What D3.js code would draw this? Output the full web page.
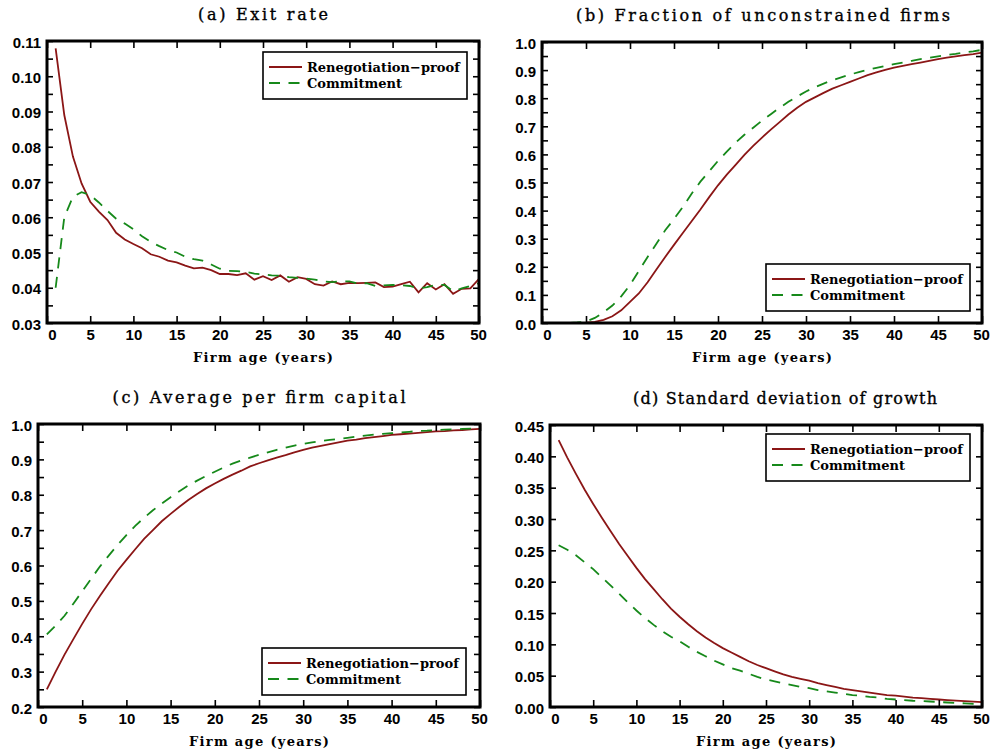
<!DOCTYPE html>
<html>
<head>
<meta charset="utf-8">
<script src="https://cdn.jsdelivr.net/npm/d3@7"></script>
<style>
  body { margin: 0; background: #fff; }
  .title { font-family: "DejaVu Serif", serif; font-size: 16px; stroke: #000; stroke-width: 0.35px; }
  .legend-text, .axis-title { font-family: "DejaVu Serif", serif; font-weight: bold; font-size: 13px; }
</style>
</head>
<body>
<script>
'use strict';

// firm age (years), one value per year
let ages = [1, 2, 3, 4, 5, 6, 7, 8, 9, 10,
  11, 12, 13, 14, 15, 16, 17, 18, 19, 20,
  21, 22, 23, 24, 25, 26, 27, 28, 29, 30,
  31, 32, 33, 34, 35, 36, 37, 38, 39, 40,
  41, 42, 43, 44, 45, 46, 47, 48, 49, 50];

let seriesNames = ["Renegotiation\u2212proof", "Commitment"];

// (a) exit rate
let exitRenego = [0.1079, 0.0890, 0.0772, 0.0696, 0.0644, 0.0616, 0.0592, 0.0556, 0.0537, 0.0524,
  0.0512, 0.0495, 0.0488, 0.0477, 0.0472, 0.0463, 0.0455, 0.0457, 0.0450, 0.0439,
  0.0439, 0.0436, 0.0441, 0.0423, 0.0433, 0.0422, 0.0435, 0.0417, 0.0430, 0.0425,
  0.0410, 0.0406, 0.0418, 0.0410, 0.0414, 0.0413, 0.0414, 0.0415, 0.0402, 0.0403,
  0.0410, 0.0417, 0.0387, 0.0413, 0.0395, 0.0410, 0.0383, 0.0397, 0.0398, 0.0425];
let exitCommit = [0.0400, 0.0600, 0.0658, 0.0671, 0.0663, 0.0642, 0.0618, 0.0596, 0.0582, 0.0566,
  0.0546, 0.0530, 0.0518, 0.0507, 0.0500, 0.0488, 0.0481, 0.0477, 0.0466, 0.0454,
  0.0448, 0.0447, 0.0445, 0.0440, 0.0438, 0.0435, 0.0434, 0.0430, 0.0428, 0.0426,
  0.0423, 0.0418, 0.0416, 0.0418, 0.0418, 0.0412, 0.0413, 0.0405, 0.0407, 0.0408,
  0.0407, 0.0405, 0.0398, 0.0402, 0.0408, 0.0408, 0.0390, 0.0398, 0.0405, 0.0413];

// (b) fraction of unconstrained firms
let fracRenego = [0, 0, 0, 0, 0.001, 0.004, 0.011, 0.024, 0.045, 0.075,
  0.105, 0.145, 0.190, 0.235, 0.278, 0.320, 0.362, 0.404, 0.448, 0.490,
  0.528, 0.563, 0.598, 0.630, 0.660, 0.688, 0.715, 0.742, 0.766, 0.787,
  0.803, 0.819, 0.834, 0.846, 0.858, 0.870, 0.882, 0.892, 0.901, 0.909,
  0.915, 0.921, 0.927, 0.933, 0.939, 0.944, 0.949, 0.953, 0.957, 0.962];
let fracCommit = [0, 0, 0, 0.002, 0.005, 0.018, 0.038, 0.062, 0.095, 0.135,
  0.185, 0.235, 0.282, 0.330, 0.370, 0.413, 0.460, 0.503, 0.540, 0.577,
  0.610, 0.642, 0.670, 0.695, 0.720, 0.743, 0.766, 0.787, 0.806, 0.824,
  0.839, 0.852, 0.864, 0.874, 0.884, 0.893, 0.901, 0.908, 0.915, 0.921,
  0.927, 0.933, 0.939, 0.944, 0.949, 0.954, 0.958, 0.963, 0.967, 0.972];

// (c) average per firm capital
let capRenego = [0.250, 0.300, 0.348, 0.392, 0.435, 0.476, 0.514, 0.550, 0.585, 0.616,
  0.646, 0.675, 0.700, 0.725, 0.746, 0.766, 0.785, 0.802, 0.818, 0.832,
  0.845, 0.857, 0.868, 0.880, 0.889, 0.897, 0.905, 0.912, 0.920, 0.927,
  0.933, 0.938, 0.943, 0.948, 0.953, 0.956, 0.960, 0.963, 0.966, 0.969,
  0.971, 0.973, 0.975, 0.977, 0.979, 0.980, 0.982, 0.983, 0.985, 0.986];
let capCommit = [0.405, 0.430, 0.458, 0.492, 0.527, 0.562, 0.597, 0.628, 0.658, 0.686,
  0.712, 0.735, 0.756, 0.775, 0.793, 0.810, 0.826, 0.840, 0.853, 0.865,
  0.877, 0.888, 0.897, 0.905, 0.913, 0.920, 0.927, 0.933, 0.939, 0.944,
  0.948, 0.952, 0.955, 0.958, 0.961, 0.964, 0.967, 0.970, 0.972, 0.974,
  0.976, 0.978, 0.980, 0.981, 0.983, 0.984, 0.985, 0.986, 0.987, 0.988];

// (d) standard deviation of growth
let sdRenego = [0.426, 0.398, 0.372, 0.347, 0.324, 0.302, 0.281, 0.260, 0.241, 0.222,
  0.204, 0.188, 0.172, 0.157, 0.144, 0.132, 0.121, 0.111, 0.102, 0.094,
  0.087, 0.080, 0.073, 0.067, 0.062, 0.057, 0.052, 0.048, 0.045, 0.042,
  0.038, 0.035, 0.032, 0.029, 0.027, 0.025, 0.023, 0.021, 0.019, 0.018,
  0.0165, 0.015, 0.014, 0.013, 0.012, 0.011, 0.0102, 0.0093, 0.0085, 0.0077];
let sdCommit = [0.258, 0.251, 0.242, 0.231, 0.220, 0.207, 0.194, 0.181, 0.167, 0.154,
  0.142, 0.131, 0.121, 0.112, 0.105, 0.096, 0.088, 0.081, 0.074, 0.068,
  0.062, 0.058, 0.053, 0.048, 0.044, 0.041, 0.038, 0.035, 0.032, 0.030,
  0.027, 0.025, 0.023, 0.021, 0.019, 0.018, 0.016, 0.015, 0.013, 0.012,
  0.011, 0.010, 0.0095, 0.0088, 0.008, 0.0072, 0.0065, 0.0058, 0.005, 0.0045];

// tick values
let xTicks = [0, 5, 10, 15, 20, 25, 30, 35, 40, 45, 50];
let yTicksA = [0.03, 0.04, 0.05, 0.06, 0.07, 0.08, 0.09, 0.10, 0.11];
let yMinorA = [0.035, 0.045, 0.055, 0.065, 0.075, 0.085, 0.095, 0.105];
let yTicksB = [0, 0.1, 0.2, 0.3, 0.4, 0.5, 0.6, 0.7, 0.8, 0.9, 1.0];
let yMinorB = [0.05, 0.15, 0.25, 0.35, 0.45, 0.55, 0.65, 0.75, 0.85, 0.95];
let yTicksC = [0.2, 0.3, 0.4, 0.5, 0.6, 0.7, 0.8, 0.9, 1.0];
let yMinorC = [0.25, 0.35, 0.45, 0.55, 0.65, 0.75, 0.85, 0.95];
let yTicksD = [0, 0.05, 0.10, 0.15, 0.20, 0.25, 0.30, 0.35, 0.40, 0.45];
let yMinorD = [];

let red = "#8b1616";
let green = "#16891a";

let svg = d3.select('body').append('svg')
  .attr('width', 994)
  .attr('height', 754)
  .style('background', '#fff');

let panels = [
  { title: "(a) Exit rate", titleX: 263, titleW: 130,
    left: 47, right: 479, top: 41, bottom: 323,
    yDomain: [0.03, 0.11], yTicks: yTicksA, yMinor: yMinorA, fmt: ".2f",
    renego: exitRenego, commit: exitCommit, legendX: 263, legendY: 52 },
  { title: "(b) Fraction of unconstrained firms", titleX: 763, titleW: 374,
    left: 542, right: 982, top: 42, bottom: 323,
    yDomain: [0, 1], yTicks: yTicksB, yMinor: yMinorB, fmt: ".1f",
    renego: fracRenego, commit: fracCommit, legendX: 766, legendY: 264 },
  { title: "(c) Average per firm capital", titleX: 259, titleW: 293,
    left: 38, right: 480, top: 424, bottom: 707,
    yDomain: [0.2, 1], yTicks: yTicksC, yMinor: yMinorC, fmt: ".1f",
    renego: capRenego, commit: capCommit, legendX: 262, legendY: 648 },
  { title: "(d) Standard deviation of growth", titleX: 785, titleW: 304,
    left: 550, right: 982, top: 425, bottom: 707,
    yDomain: [0, 0.45], yTicks: yTicksD, yMinor: yMinorD, fmt: ".2f",
    renego: sdRenego, commit: sdCommit, legendX: 766, legendY: 434 }
];

panels.forEach((p, i) => drawPanel(p, i));

function styleAxis(g) {
  g.select('.domain').remove();
  g.selectAll('line').attr('stroke', '#000').attr('stroke-width', 1.6);
  g.selectAll('text')
    .attr('fill', '#000')
    .style('font-family', '"Liberation Sans", Arial, sans-serif')
    .style('font-weight', 'bold')
    .style('font-size', '15px');
}

function drawPanel(p, idx) {
  let g = svg.append('g');

  let xScale = d3.scaleLinear().domain([0, 50]).range([p.left, p.right]);
  let yScale = d3.scaleLinear().domain(p.yDomain).range([p.bottom, p.top]);

  // clip the curves to the frame
  let clipId = 'clip' + idx;
  svg.append('clipPath').attr('id', clipId)
    .append('rect')
    .attr('x', p.left).attr('y', p.top)
    .attr('width', p.right - p.left).attr('height', p.bottom - p.top);

  let line = d3.line()
    .x((d, i) => xScale(ages[i]))
    .y(d => yScale(d));

  let curves = g.append('g').attr('clip-path', 'url(#' + clipId + ')');
  curves.append('path')
    .datum(p.renego)
    .attr('d', line)
    .attr('fill', 'none')
    .attr('stroke', red)
    .attr('stroke-width', 1.8);
  curves.append('path')
    .datum(p.commit)
    .attr('d', line)
    .attr('fill', 'none')
    .attr('stroke', green)
    .attr('stroke-width', 1.8)
    .attr('stroke-dasharray', '11,8.5');

  // ticks on all four sides, pointing inward
  g.append('g')
    .attr('transform', 'translate(0,' + p.bottom + ')')
    .call(d3.axisBottom(xScale).tickValues(xTicks).tickSizeInner(-7).tickSizeOuter(0).tickPadding(6))
    .call(styleAxis)
    .selectAll('text')
    .attr('dx', d => d === 0 ? 5 : (d === 50 ? -1 : 0));

  g.append('g')
    .attr('transform', 'translate(0,' + p.top + ')')
    .call(d3.axisTop(xScale).tickValues(xTicks).tickSizeInner(-7).tickSizeOuter(0).tickFormat(''))
    .call(styleAxis);

  g.append('g')
    .attr('transform', 'translate(' + p.left + ',0)')
    .call(d3.axisLeft(yScale).tickValues(p.yTicks).tickSizeInner(-6).tickSizeOuter(0).tickPadding(6)
      .tickFormat(d3.format(p.fmt)))
    .call(styleAxis)
    .selectAll('text').attr('dy', '0.4em');

  g.append('g')
    .attr('transform', 'translate(' + p.left + ',0)')
    .call(d3.axisLeft(yScale).tickValues(p.yMinor).tickSizeInner(-6).tickSizeOuter(0).tickFormat(''))
    .call(styleAxis);

  g.append('g')
    .attr('transform', 'translate(' + p.right + ',0)')
    .call(d3.axisRight(yScale).tickValues(p.yTicks.concat(p.yMinor)).tickSizeInner(-6).tickSizeOuter(0).tickFormat(''))
    .call(styleAxis);

  // frame
  g.append('rect')
    .attr('x', p.left).attr('y', p.top)
    .attr('width', p.right - p.left).attr('height', p.bottom - p.top)
    .attr('fill', 'none')
    .attr('stroke', '#000')
    .attr('stroke-width', 3);

  // title
  g.append('text')
    .attr('class', 'title')
    .attr('x', p.titleX)
    .attr('y', p.top - 21)
    .attr('text-anchor', 'middle')
    .attr('textLength', p.titleW)
    .attr('lengthAdjust', 'spacing')
    .text(p.title);

  // x axis title
  g.append('text')
    .attr('class', 'axis-title')
    .attr('x', (p.left + p.right) / 2)
    .attr('y', p.bottom + 39)
    .attr('text-anchor', 'middle')
    .attr('textLength', 140)
    .attr('lengthAdjust', 'spacing')
    .text('Firm age (years)');

  // legend
  let lg = g.append('g').attr('transform', 'translate(' + p.legendX + ',' + p.legendY + ')');
  lg.append('rect')
    .attr('width', 204).attr('height', 47)
    .attr('fill', '#fff')
    .attr('stroke', '#000')
    .attr('stroke-width', 1.6);

  let legendColors = [red, green];
  let legendDash = [null, '11,8.5'];
  seriesNames.forEach((name, i) => {
    let ly = 15 + i * 16;
    lg.append('line')
      .attr('x1', 6).attr('x2', 39)
      .attr('y1', ly).attr('y2', ly)
      .attr('stroke', legendColors[i])
      .attr('stroke-width', 1.8)
      .attr('stroke-dasharray', legendDash[i]);
    lg.append('text')
      .attr('class', 'legend-text')
      .attr('x', 44)
      .attr('y', ly + 5)
      .text(name);
  });
}
</script>
</body>
</html>
